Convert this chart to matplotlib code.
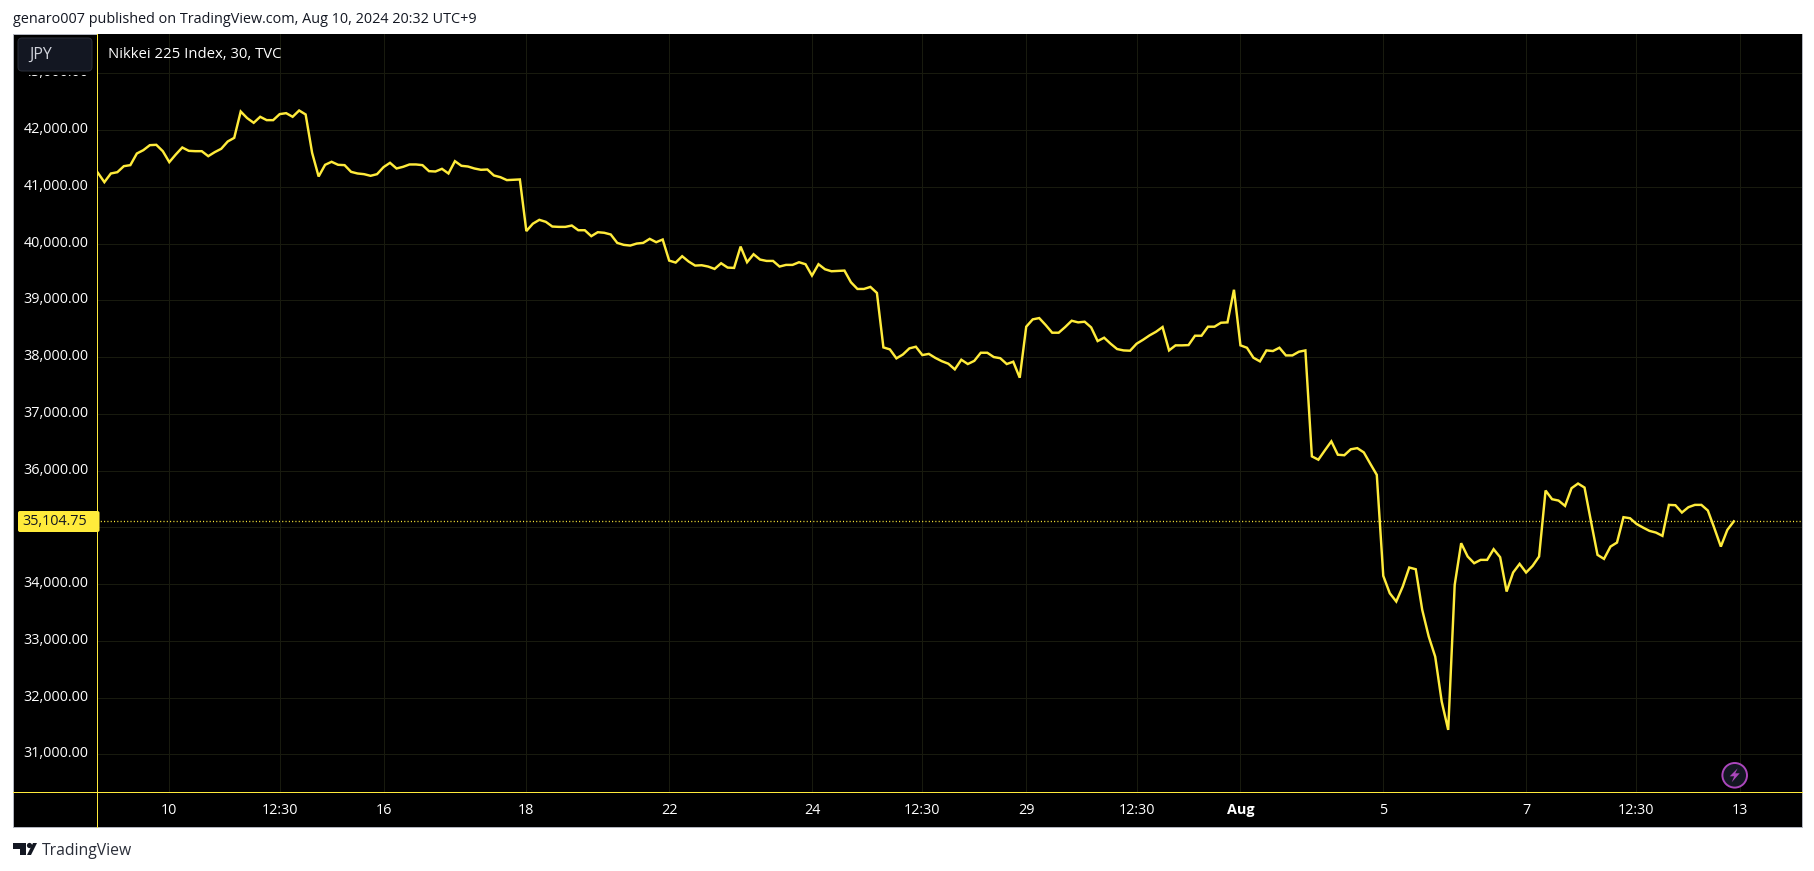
import numpy as np
import matplotlib
matplotlib.use("Agg")
import matplotlib.pyplot as plt
from matplotlib.patches import Rectangle, FancyBboxPatch, Circle, Polygon
from matplotlib.lines import Line2D
from matplotlib.transforms import IdentityTransform, ScaledTranslation

close_prices = [
 41247,41082,41235,41258,41364,41382,41587,41646,41734,41740,41628,41435,41570,41693,41634,41628,41628,41540,41611,41670,
 41799,41863,42327,42210,42128,42234,42175,42175,42281,42298,42234,42345,42275,41599,41182,41388,41441,41388,41382,41264,
 41235,41223,41194,41223,41347,41423,41323,41352,41394,41394,41382,41276,41270,41317,41235,41452,41370,41358,41323,41300,
 41305,41200,41170,41118,41124,41130,40220,40350,40418,40383,40300,40294,40294,40318,40235,40235,40130,40200,40190,40160,
 40012,39977,39965,40000,40012,40083,40024,40071,39700,39665,39777,39683,39612,39618,39595,39553,39653,39577,39571,39947,
 39671,39812,39718,39694,39694,39595,39624,39624,39671,39636,39436,39636,39547,39512,39518,39524,39318,39200,39200,39236,
 39130,38170,38135,37977,38045,38153,38182,38035,38056,37985,37927,37883,37783,37953,37877,37933,38076,38076,38000,37980,
 37877,37918,37636,38535,38664,38687,38564,38429,38429,38529,38640,38611,38623,38523,38282,38341,38235,38141,38117,38112,
 38235,38305,38382,38446,38529,38117,38206,38206,38211,38376,38376,38535,38535,38605,38611,39186,38206,38164,37988,37924,
 38117,38106,38164,38029,38029,38094,38117,36250,36191,36355,36514,36279,36270,36375,36395,36320,36120,35924,34144,33838,
 33692,33956,34291,34261,33545,33075,32720,31929,31430,33985,34720,34485,34367,34426,34426,34614,34473,33868,34203,34355,
 34203,34320,34485,35648,35495,35471,35377,35689,35771,35700,35101,34514,34443,34660,34731,35178,35160,35060,34996,34937,
 34907,34849,35395,35389,35260,35354,35395,35395,35295,34984,34660,34954,35104.75,
]
last_price = 35104.75
price_ticks = [31000,32000,33000,34000,35000,36000,37000,38000,39000,40000,41000,42000,43000]
time_positions = [11,28,44,66,88,110,127,143,160,176,198,220,237,253]
time_labels = ["10","12:30","16","18","22","24","12:30","29","12:30","Aug","5","7","12:30","13"]
title_text = "genaro007 published on TradingView.com, Aug 10, 2024 20:32 UTC+9"
legend_text = "Nikkei 225 Index, 30, TVC"
FONT = "Open Sans"
YEL = "#ffeb3b"
W, H = 1815, 871
plt.rcParams['font.family'] = [FONT, 'DejaVu Sans']

fx = lambda p: p / W
fy = lambda p: 1 - p / H
PX = 0.72

fig = plt.figure(figsize=(W/100, H/100), dpi=100, facecolor="white")
ax = fig.add_axes([fx(97.5), fy(792.3), fx(1802-97.5), (792.3-34)/H], facecolor="black")

fig.add_artist(Rectangle((fx(13), fy(826.7)), fx(1802-13), (826.7-34)/H, transform=fig.transFigure,
                         facecolor="black", edgecolor="#b2b5be", lw=PX, zorder=-5))

x = np.arange(len(close_prices))
ax.plot(x, close_prices, color=YEL, lw=1.75, solid_joinstyle="miter", zorder=3)
ax.axhline(last_price, color=YEL, lw=0.95, ls=(0, (0.8, 1.7)), zorder=2)
ax.set_xlim(-0.06, 262.5)
ax.set_ylim(30330, 43693)
ax.set_yticks(price_ticks)
ax.set_yticklabels([f"{v:,.2f}" for v in price_ticks], fontsize=10.4, color="white")
ax.set_xticks(time_positions)
ax.set_xticklabels(time_labels, fontsize=10.4, color="white")
for lab in ax.get_xticklabels():
    if lab.get_text() == "Aug":
        lab.set_fontweight("bold")
ax.tick_params(axis="y", length=0, pad=6.6)
ax.tick_params(axis="x", length=0, pad=8)
lift = ScaledTranslation(0, 2.5/100, fig.dpi_scale_trans)
for lab in ax.get_yticklabels():
    lab.set_transform(lab.get_transform() + lift)
ax.grid(True, color="#181a0e", lw=PX)
ax.set_axisbelow(True)
for s in ["top", "right"]:
    ax.spines[s].set_visible(False)
for s in ["left", "bottom"]:
    ax.spines[s].set_color(YEL)
    ax.spines[s].set_linewidth(PX)

fig.add_artist(Line2D([fx(97.5)]*2, [fy(34), fy(826.7)], color=YEL, lw=PX, zorder=4))
fig.add_artist(Line2D([fx(13), fx(1802)], [fy(792.3)]*2, color=YEL, lw=PX, zorder=4))

fig.text(fx(13), fy(19.5), title_text, fontsize=10.35, color="#131722", va="center", ha="left")
fig.text(fx(108), fy(54), legend_text, fontsize=10.7, color="white", va="center", ha="left", zorder=6)

# the button sits on a black band that hides most of the topmost price label
fig.add_artist(Rectangle((14, H-75), 83, 40, transform=IdentityTransform(), facecolor="black", edgecolor="none", zorder=4.5))
fig.add_artist(FancyBboxPatch((18+3, H-71+3), 74-6, 33-6, boxstyle="round,pad=3,rounding_size=4",
                              transform=IdentityTransform(), facecolor="#131722", edgecolor="#2a2e39", lw=PX, zorder=5))
fig.text(fx(29), fy(54.5), "JPY", fontsize=11.5, color="#d1d4dc", va="center", ha="left", zorder=6)

fig.add_artist(FancyBboxPatch((18+2, H-532+2), 79.5-2, 21-4, boxstyle="round,pad=2,rounding_size=2",
                              transform=IdentityTransform(), facecolor=YEL, edgecolor="none", zorder=5))
fig.text(fx(22), fy(521), f"{last_price:,.2f}", fontsize=10.4, color="#131722", va="center", ha="left", zorder=6)

cx, cy = 1734.7, H-775.3
fig.add_artist(Circle((cx, cy), 12.3, transform=IdentityTransform(), facecolor="#131722", edgecolor="#ab47bc", lw=1.4, zorder=5))
fig.add_artist(Polygon([(cx+3, cy+7), (cx-5, cy-1), (cx-0.5, cy-1), (cx-3, cy-7), (cx+5, cy+2), (cx+0.5, cy+2)],
                       closed=True, transform=IdentityTransform(), facecolor="#ab47bc", edgecolor="none", zorder=6))

ink = "#131722"
fig.add_artist(Polygon([(13, H-843), (26, H-843), (26, H-855), (20, H-855), (20, H-849), (13, H-849)],
                       closed=True, transform=IdentityTransform(), facecolor=ink, edgecolor="none"))
fig.add_artist(Circle((29.5, H-845.5), 2.6, transform=IdentityTransform(), facecolor=ink, edgecolor="none"))
fig.add_artist(Polygon([(31, H-855), (37, H-843), (33, H-843), (27, H-855)],
                       closed=True, transform=IdentityTransform(), facecolor=ink, edgecolor="none"))
fig.text(fx(42), fy(851), "TradingView", fontsize=11.3, color="#2a2e39", va="center", ha="left")

fig.savefig("out.png", dpi=100, facecolor="white")
assert len(close_prices) == 253, len(close_prices)
